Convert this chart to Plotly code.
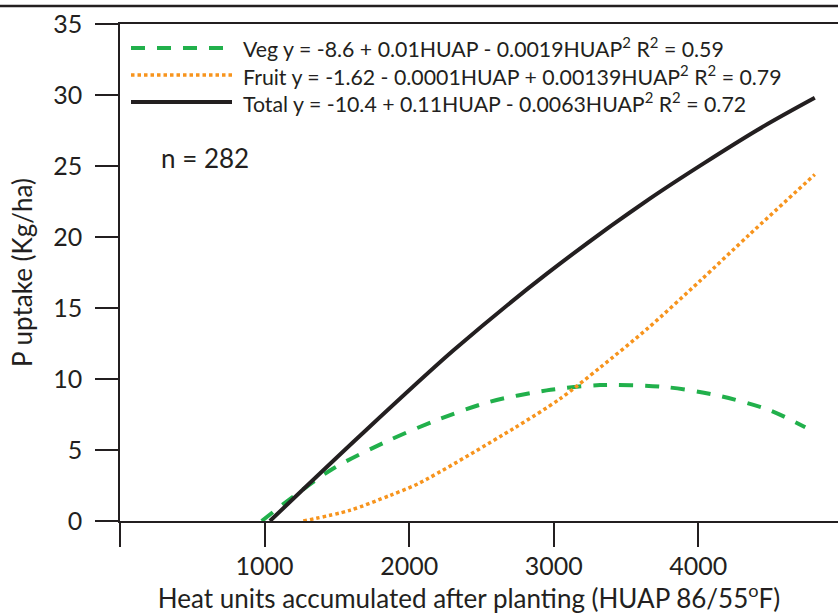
import plotly.graph_objects as go

# ---- data ----
veg_huap = [980, 1164, 1475, 1844, 2189, 2559, 2951, 3320, 3757, 4126, 4495, 4740]
veg_p = [0, 1.45, 3.7, 5.6, 7.1, 8.4, 9.2, 9.57, 9.45, 8.86, 7.8, 6.6]

fruit_huap = [1268, 1590, 1867, 2063, 2720, 3043, 3320, 3654, 4011, 4357, 4806]
fruit_p = [0, 0.75, 1.8, 2.63, 6.5, 8.6, 10.8, 13.6, 16.9, 20.2, 24.4]

total_huap = [1037, 1660, 2305, 2951, 3665, 4403, 4806]
total_p = [0, 6.0, 12.0, 17.4, 22.7, 27.5, 29.8]

series_names = ["Veg", "Fruit", "Total"]
legend_texts = [
    "Veg y = -8.6 + 0.01HUAP - 0.0019HUAP<sup>2</sup> R<sup>2</sup> = 0.59",
    "Fruit y = -1.62 - 0.0001HUAP + 0.00139HUAP<sup>2</sup> R<sup>2</sup> = 0.79",
    "Total y = -10.4 + 0.11HUAP - 0.0063HUAP<sup>2</sup> R<sup>2</sup> = 0.72",
]
x_tickvals = [0, 1000, 2000, 3000, 4000]
x_ticktext = ["", "1000", "2000", "3000", "4000"]
y_tickvals = [0, 5, 10, 15, 20, 25, 30, 35]

INK = "#231F20"
GREEN = "#21B04B"
ORANGE = "#F7941D"
FONT = "Lato"

W, H = 838, 614
L, R, T, B = 120, 0, 24, 93
PW, PH = W - L - R, H - T - B


def px(xp):
    return (xp - L) / PW


def py(yp):
    return (H - B - yp) / PH


fig = go.Figure()
styles = [
    dict(color=GREEN, width=4, dash="14px,12px"),
    dict(color=ORANGE, width=3.5, dash="3.5px,3px"),
    dict(color=INK, width=4),
]
for name, xs, ys, st in zip(series_names,
                            [veg_huap, fruit_huap, total_huap],
                            [veg_p, fruit_p, total_p], styles):
    fig.add_trace(go.Scatter(x=xs, y=ys, mode="lines", name=name,
                             line=dict(shape="spline", smoothing=0.8, **st),
                             showlegend=False))

shapes = []
annotations = []
leg_y = [48, 75, 102]
for st, txt, yy in zip(styles, legend_texts, leg_y):
    shapes.append(dict(type="line", xref="paper", yref="paper",
                       x0=px(131), x1=px(232), y0=py(yy), y1=py(yy),
                       line=st))
    annotations.append(dict(xref="paper", yref="paper", x=px(241), y=py(yy),
                            xanchor="left", yanchor="middle", showarrow=False,
                            text=txt, font=dict(family=FONT, size=21.3, color=INK)))

annotations.append(dict(xref="paper", yref="paper", x=px(159), y=py(158),
                        xanchor="left", yanchor="middle", showarrow=False,
                        text="n = 282", font=dict(family=FONT, size=26, color=INK)))

# page top rule
shapes.append(dict(type="line", xref="paper", yref="paper",
                   x0=-0.2, x1=1.0, y0=py(6), y1=py(6),
                   line=dict(color=INK, width=2.5)))

fig.update_layout(
    width=W, height=H,
    margin=dict(l=L, r=R, t=T, b=B, autoexpand=False),
    paper_bgcolor="white", plot_bgcolor="white",
    font=dict(family=FONT, size=25, color=INK),
    shapes=shapes, annotations=annotations,
    xaxis=dict(range=[0, PW / 0.14457], tickvals=x_tickvals, ticktext=x_ticktext,
               ticks="outside", ticklen=24, tickwidth=1.5, tickcolor=INK,
               showline=True, linecolor=INK, linewidth=1.5, mirror=True,
               showgrid=False, zeroline=False, automargin=False,
               ticklabelstandoff=-2,
               tickfont=dict(family=FONT, size=25, color=INK),
               title=dict(text="Heat units accumulated after planting (HUAP 86/55<sup>o</sup>F)&nbsp;&nbsp;&nbsp;",
                          font=dict(family=FONT, size=26, color=INK), standoff=10)),
    yaxis=dict(range=[0, 35], tickvals=y_tickvals,
               ticks="outside", ticklen=23, tickwidth=1.5, tickcolor=INK,
               showline=True, linecolor=INK, linewidth=1.5,
               showgrid=False, zeroline=False, automargin=False,
               ticklabelstandoff=8,
               tickfont=dict(family=FONT, size=25, color=INK),
               title=dict(text="P uptake (Kg/ha)",
                          font=dict(family=FONT, size=26, color=INK), standoff=13)),
)

fig.write_html("out.html", config={"displayModeBar": False},
               post_script="document.body.style.margin='0';document.body.style.overflow='hidden';")
